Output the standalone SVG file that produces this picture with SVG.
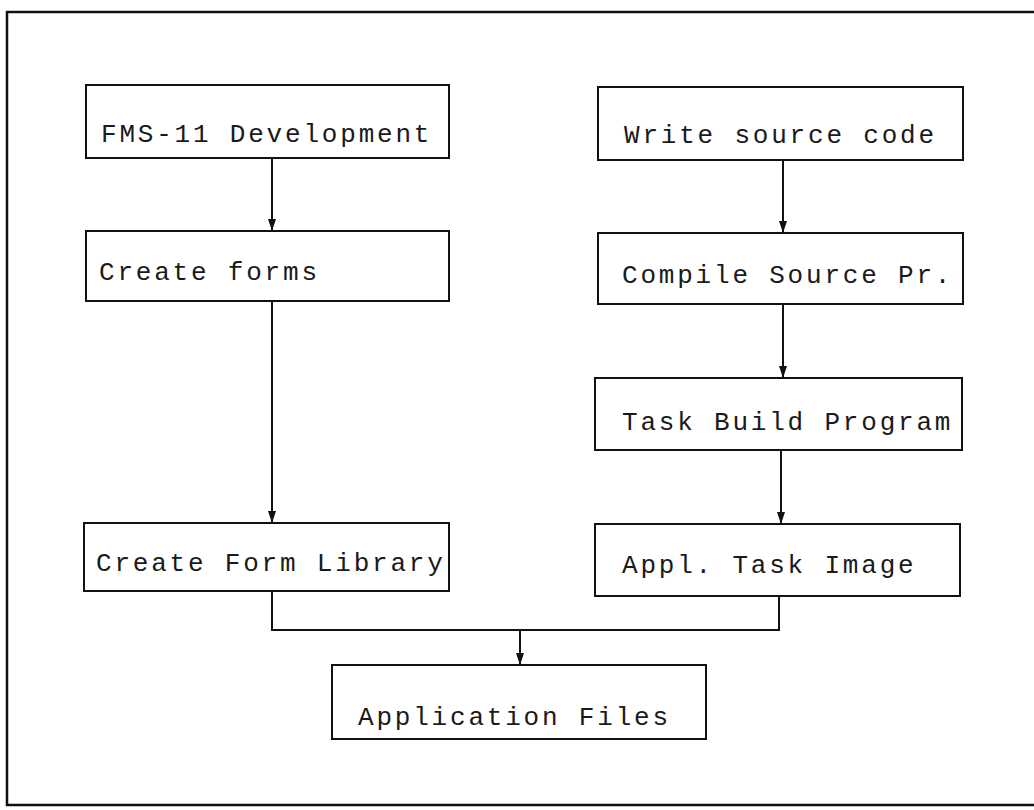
<svg xmlns="http://www.w3.org/2000/svg" width="1034" height="810" viewBox="0 0 1034 810">
  <style>
    .frame { fill: none; stroke: #111; stroke-width: 2.5; }
    .box { fill: #fff; stroke: #111; stroke-width: 2; }
    .lbl { font-family: "Liberation Mono", "DejaVu Sans Mono", monospace; font-size: 26px; letter-spacing: 2.8px; fill: #1a1a1a; }
    .wire { fill: none; stroke: #111; stroke-width: 2; }
  </style>
  <defs>
    <marker id="head" viewBox="0 0 12 8" refX="12" refY="4" markerWidth="12" markerHeight="8" markerUnits="userSpaceOnUse" orient="auto">
      <path d="M0,0 L12,4 L0,8 Z" fill="#111"/>
    </marker>
  </defs>

  <rect width="1034" height="810" fill="#fff"/>
  <!-- outer border, open on the right -->
  <path class="frame" d="M1034,12 L7,12 L7,805 L1034,805"/>

  <!-- connectors -->
  <g id="connectors">
    <line class="wire" x1="272" y1="158" x2="272" y2="231" marker-end="url(#head)"/>
    <line class="wire" x1="272" y1="301" x2="272" y2="523" marker-end="url(#head)"/>
    <line class="wire" x1="783" y1="160" x2="783" y2="233" marker-end="url(#head)"/>
    <line class="wire" x1="783" y1="304" x2="783" y2="378" marker-end="url(#head)"/>
    <line class="wire" x1="781" y1="450" x2="781" y2="524" marker-end="url(#head)"/>
    <path class="wire" d="M272,591 L272,630 L779,630 L779,596"/>
    <line class="wire" x1="520" y1="630" x2="520" y2="665" marker-end="url(#head)"/>
  </g>

  <g id="fms-dev">
    <rect class="box" x="86" y="85" width="363" height="73"/>
    <text class="lbl" x="101" y="142">FMS-11 Development</text>
  </g>
  <g id="create-forms">
    <rect class="box" x="86" y="231" width="363" height="70"/>
    <text class="lbl" x="99" y="280">Create forms</text>
  </g>
  <g id="form-library">
    <rect class="box" x="84" y="523" width="365" height="68"/>
    <text class="lbl" x="96" y="571">Create Form Library</text>
  </g>
  <g id="write-source">
    <rect class="box" x="598" y="87" width="365" height="73"/>
    <text class="lbl" x="624" y="143">Write source code</text>
  </g>
  <g id="compile">
    <rect class="box" x="598" y="233" width="365" height="71"/>
    <text class="lbl" x="622" y="283">Compile Source Pr.</text>
  </g>
  <g id="task-build">
    <rect class="box" x="595" y="378" width="367" height="72"/>
    <text class="lbl" x="622" y="430">Task Build Program</text>
  </g>
  <g id="task-image">
    <rect class="box" x="595" y="524" width="365" height="72"/>
    <text class="lbl" x="622" y="573">Appl. Task Image</text>
  </g>
  <g id="app-files">
    <rect class="box" x="332" y="665" width="374" height="74"/>
    <text class="lbl" x="358" y="725">Application Files</text>
  </g>
</svg>
